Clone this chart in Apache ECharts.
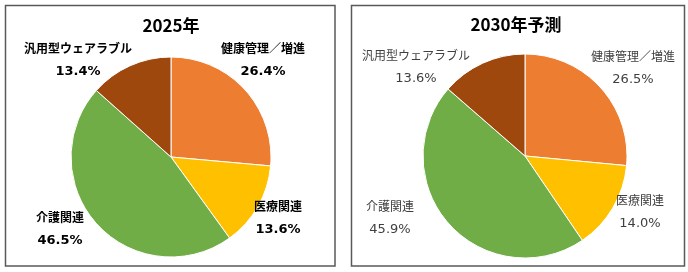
<!DOCTYPE html>
<html><head><meta charset="utf-8">
<script src="https://cdn.jsdelivr.net/npm/echarts@6/dist/echarts.min.js"></script>
<style>html,body{margin:0;padding:0;background:#fff}#c{width:688px;height:272px}</style>
</head><body><div id="c"></div>
<script>
const categories = ['健康管理／増進', '医療関連', '介護関連', '汎用型ウェアラブル'];
const values2025 = [26.4, 13.6, 46.5, 13.4];
const values2030 = [26.5, 14.0, 45.9, 13.6];
const titles = ['2025年', '2030年予測'];
const colors = ['#ED7D31', '#FFC000', '#70AD47', '#9E480E'];

const labelPos = [
  [[263, 60], [278, 218], [60, 229], [78, 60]],
  [[633, 68], [640, 212], [390, 218], [416, 67]]
];
const FONT = '"Noto Sans CJK JP", sans-serif';

const chart = echarts.init(document.getElementById('c'));
function mkSeries(vals, idx, center, r, weight, color) {
  return {
    type: 'pie', radius: r, center: center, startAngle: 90, clockwise: true,
    animation: false, silent: true,
    data: categories.map((n, i) => ({ name: n, value: vals[i], itemStyle: { color: colors[i] } })),
    itemStyle: { borderColor: '#fff', borderWidth: 1 },
    label: {
      show: true, overflow: 'none', width: 200,
      formatter: p => '{n|' + p.name + '}\n{v|' + p.value.toFixed(1) + '%}',
      align: 'center',
      rich: {
        n: { fontFamily: FONT, fontSize: 12, fontWeight: weight, color: color, lineHeight: 23, align: 'center' },
        v: { fontFamily: '"DejaVu Sans", sans-serif', fontSize: 13, fontWeight: weight, color: color, lineHeight: 23, align: 'center' }
      }
    },
    labelLine: { show: false },
    labelLayout: p => ({ x: labelPos[idx][p.dataIndex][0], y: labelPos[idx][p.dataIndex][1], align: 'center', verticalAlign: 'middle' })
  };
}
chart.setOption({
  animation: false,
  title: [
    { text: titles[0], left: 171, top: 26, padding: 0, textAlign: 'center', textVerticalAlign: 'middle', textStyle: { fontFamily: FONT, fontSize: 17, fontWeight: 'bold', color: '#000' } },
    { text: titles[1], left: 516, top: 25, padding: 0, textAlign: 'center', textVerticalAlign: 'middle', textStyle: { fontFamily: FONT, fontSize: 17, fontWeight: 'bold', color: '#000' } }
  ],
  graphic: [
    { type: 'rect', shape: { x: 5.5, y: 5.5, width: 329.5, height: 260.5 }, style: { fill: 'none', stroke: '#595959', lineWidth: 1.5 } },
    { type: 'rect', shape: { x: 351.5, y: 5.5, width: 333, height: 260.5 }, style: { fill: 'none', stroke: '#595959', lineWidth: 1.5 } }
  ],
  series: [
    mkSeries(values2025, 0, [171, 157], 100, 'bold', '#000'),
    mkSeries(values2030, 1, [525, 156], 102, 'normal', '#404040')
  ]
});
</script></body></html>
